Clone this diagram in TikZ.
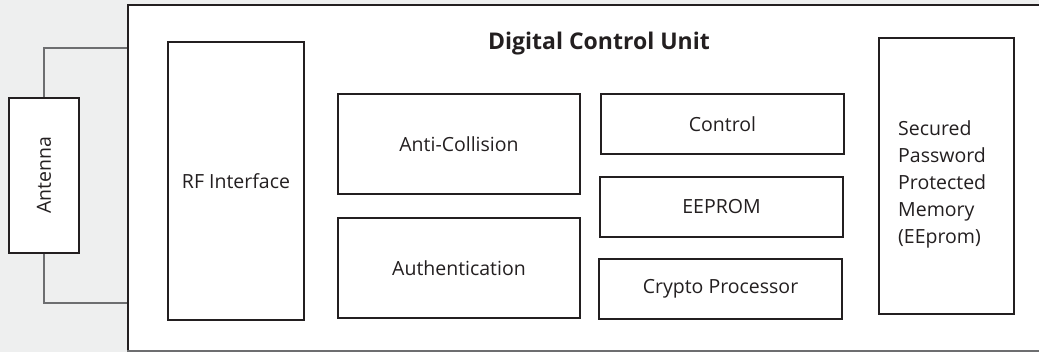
\documentclass[tikz,border=0pt]{standalone}
\usepackage{fontspec}
\setmainfont{Open Sans}
\definecolor{bggray}{HTML}{EEEFEF}
\definecolor{ink}{HTML}{231F20}
\definecolor{wire}{HTML}{6D6E70}
\begin{document}
\begin{tikzpicture}[x=1pt,y=-1pt,
  blk/.style={draw=ink,line width=2pt,fill=white,inner sep=0pt,anchor=north west,text=ink,font=\fontsize{19.5}{27}\selectfont,align=center},
  wirel/.style={draw=wire,line width=1.3pt}]
\useasboundingbox (0,0) rectangle (1039,352);
\clip (0,0) rectangle (1039,352);
\fill[bggray] (0,0) rectangle (1039,352);
% digital control unit frame
\node[blk,minimum width=930pt,minimum height=346.5pt] (dcu) at (127,4.5) {};
\draw[wire,line width=2pt] (127,351) -- (1045,351);
\node[text=ink,font=\fontsize{23}{27}\selectfont\bfseries] (title) at (599,44) {Digital Control Unit};
% antenna
\node[blk,minimum width=70pt,minimum height=155pt] (ant) at (8,97) {};
\node[rotate=90,text=ink,font=\fontsize{19.5}{22}\selectfont] (antl) at (ant.center) {Antenna};
\coordinate (tA) at (127,48);
\coordinate (tB) at (127,303);
\draw[wirel] (ant.north) |- (tA);
\draw[wirel] (ant.south) |- (tB);
% blocks
\node[blk,minimum width=136pt,minimum height=278pt] (rf) at (167,41) {RF Interface};
\node[blk,minimum width=242pt,minimum height=100pt] (anti) at (337,93) {Anti-Collision};
\node[blk,minimum width=242pt,minimum height=100pt] (auth) at (337,217) {Authentication};
\node[blk,minimum width=243pt,minimum height=60pt] (ctrl) at (600,93) {Control};
\node[blk,minimum width=243pt,minimum height=60pt] (eep) at (599,176) {EEPROM};
\node[blk,minimum width=243pt,minimum height=60pt] (cry) at (598,258) {Crypto Processor};
\node[blk,minimum width=135pt,minimum height=276pt] (mem) at (878,37) {};
\node[text=ink,font=\fontsize{19.5}{27}\selectfont,align=left,inner sep=0pt,anchor=west] (meml) at (898,184) {Secured\\Password\\Protected\\Memory\\(EEprom)};
\end{tikzpicture}
\end{document}
